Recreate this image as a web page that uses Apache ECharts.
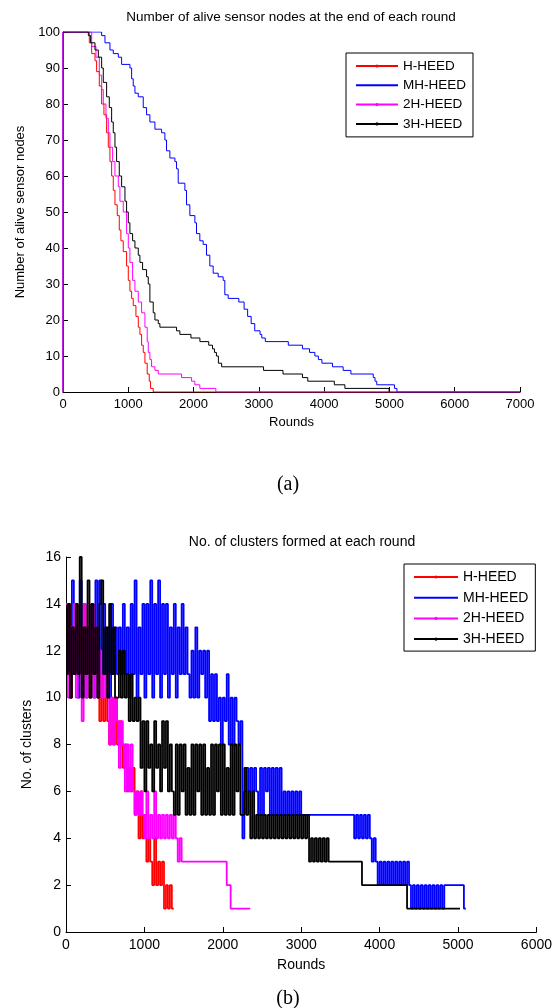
<!DOCTYPE html>
<html><head><meta charset="utf-8">
<script src="https://cdn.jsdelivr.net/npm/echarts@6/dist/echarts.min.js"></script>
<style>html,body{margin:0;padding:0;background:#fff}#c{width:555px;height:1008px}</style>
</head><body><div id="c"></div>
<script>
// ---------- shared ----------
const seriesNames = ['H-HEED', 'MH-HEED', '2H-HEED', '3H-HEED'];
const seriesColors = ['#ff0000', '#0000ff', '#ff00ff', '#000000'];

// ---------- chart (a): alive nodes, [round, alive nodes] ----------
const roundTicksA = [0, 1000, 2000, 3000, 4000, 5000, 6000, 7000];
const aliveTicksA = [0, 10, 20, 30, 40, 50, 60, 70, 80, 90, 100];

const aliveH = [[0,0],[0,100],[403,97],[439,94],[490,92],[515,89],[556,85],[592,80],[627,77],[668,72],[694,68],[719,64],[745,60],[770,56],[796,52],[831,49],[862,45],[887,42],[923,39],[974,35],[1000,31],[1025,28],[1051,26],[1076,24],[1117,21],[1153,18],[1178,16],[1204,13],[1229,11],[1255,8],[1290,5],[1321,3],[1341,1],[1382,0],[7000,0]];
const aliveMH = [[0,0],[0,100],[592,99],[643,97],[719,95],[770,94],[847,93],[898,91],[1025,90],[1051,87],[1076,85],[1102,83],[1153,82],[1229,79],[1280,77],[1331,75],[1408,73],[1510,72],[1561,70],[1586,67],[1637,65],[1714,64],[1739,62],[1765,58],[1867,56],[1892,52],[1943,49],[2020,47],[2045,44],[2096,42],[2147,41],[2198,38],[2249,35],[2300,33],[2377,32],[2453,31],[2479,27],[2530,26],[2693,25],[2774,23],[2828,21],[2882,19],[2937,17],[3018,16],[3045,15],[3099,14],[3451,13],[3668,12],[3776,11],[3858,10],[3912,9],[3966,8],[4128,7],[4291,6],[4410,5],[4752,4],[4779,3],[4806,2],[5077,1],[5115,0],[7000,0]];
const alive2H = [[0,0],[0,100],[439,96],[505,93],[556,88],[592,84],[617,80],[658,76],[694,72],[719,68],[760,64],[796,60],[847,57],[872,53],[923,50],[974,44],[1000,40],[1025,36],[1066,31],[1102,28],[1153,25],[1204,22],[1255,18],[1290,14],[1306,11],[1331,9],[1357,7],[1408,6],[1459,5],[1816,4],[1969,3],[2020,2],[2096,1],[2341,0],[7000,0]];
const alive3H = [[0,100],[388,99],[423,97],[490,95],[541,93],[592,90],[617,86],[668,82],[709,79],[745,75],[770,72],[796,68],[821,64],[862,60],[898,57],[949,53],[974,50],[1000,47],[1025,44],[1066,42],[1102,40],[1153,38],[1178,36],[1219,34],[1280,32],[1306,30],[1331,25],[1382,22],[1408,20],[1459,19],[1484,18],[1739,17],[1790,16],[1960,15],[2097,14],[2232,13],[2290,12],[2320,11],[2350,10],[2380,8],[2430,7],[3072,6],[3370,5],[3668,4],[3749,3],[4156,2],[4318,1],[4995,0]];

// ---------- chart (b): clusters per round, one value every CLUSTER_ROUND_STEP rounds ----------
const roundTicksB = [0, 1000, 2000, 3000, 4000, 5000, 6000];
const clusterTicksB = [0, 2, 4, 6, 8, 10, 12, 14, 16];
const CLUSTER_ROUND_STEP = 25;

const clustersH = [11,14,10,13,11,14,12,13,10,14,11,13,10,14,11,13,
  10,9,11,9,10,9,
  8,10,8,10,8,9,8,
  7,8,6,
  7,6,7,
  5,6,4,6,
  4,5,
  3,4,3,
  2,4,2,3,2,3,
  1,2,1,
  2,1,1];
const clusters2H = [14,10,13,11,14,10,13,11,9,14,10,13,11,14,10,13,
  10,12,10,11,10,11,
  8,10,8,10,
  9,7,9,8,
  6,8,6,8,6,
  5,6,5,6,5,
  4,6,4,5,4,6,4,5,4,5,
  4,5,4,5,4,5,4,
  3,4,
  3,3,3,3,3,3,3,3,3,3,3,3,3,3,3,3,3,3,3,3,3,3,3,
  2,2,
  1,1,1,1,1,1,1,1,1,1,1];
const clustersMH = [11,14,10,15,11,13,10,15,12,14,10,13,11,14,10,15,11,15,10,14,11,13,10,14,11,13,
  11,13,11,14,11,13,10,14,11,15,10,13,11,14,10,14,11,15,10,14,11,15,10,14,11,14,10,13,11,14,10,13,11,14,11,13,11,
  10,12,10,13,10,12,11,12,10,12,
  9,11,9,11,9,10,
  8,10,9,11,8,10,8,10,9,
  8,9,4,
  6,7,6,7,6,7,6,
  5,7,5,7,6,7,5,7,5,7,5,7,5,6,5,
  6,5,6,5,6,5,6,5,
  5,5,5,5,5,5,5,5,5,5,5,5,5,5,5,5,5,5,5,5,5,5,5,5,5,5,
  4,5,4,5,4,5,4,5,4,
  3,4,3,
  2,3,2,3,2,3,2,3,2,3,2,3,2,3,2,3,2,
  1,2,1,2,1,2,1,2,1,2,1,2,1,2,1,2,1,
  2,2,2,2,2,2,2,2,2,2,
  1,1];
const clusters3H = [11,14,10,13,11,14,11,16,10,13,11,15,10,14,11,13,10,14,15,11,13,10,14,11,13,10,
  10,12,10,12,10,11,
  9,11,9,10,9,10,
  7,9,6,9,7,8,6,9,7,8,6,9,7,9,6,8,6,
  5,8,5,8,6,8,5,7,5,8,5,8,6,8,5,8,5,7,5,8,5,8,6,8,5,8,5,7,5,8,5,8,6,8,5,
  5,7,5,6,4,6,4,5,
  4,5,4,5,4,5,4,5,4,5,4,5,4,5,4,5,4,5,4,5,4,5,4,5,4,5,
  3,4,3,4,3,4,3,4,3,4,3,
  3,3,3,3,3,3,3,3,3,3,3,3,3,3,3,3,
  2,2,2,2,2,2,2,2,2,2,2,2,2,2,2,2,2,2,2,2,2,2,2,
  1,1,1,1,1,1,1,1,1,1,1,1,1,1,1,1,1,1,1,1,1,1,1,1,1,1,1,1];

// ---------- build ----------
function toPairs(values) { return values.map((v, i) => [i * CLUSTER_ROUND_STEP, v]); }

const SANS = 'Liberation Sans, Arial, sans-serif';
const SERIF = 'Liberation Serif, Times New Roman, serif';

function axisCommon(fs, margin) {
  return {
    axisLine: { show: true, onZero: false, lineStyle: { color: '#000', width: 1 } },
    axisTick: { show: true, inside: true, length: 5, lineStyle: { color: '#000' } },
    axisLabel: { color: '#000', fontSize: fs, fontFamily: SANS, margin: margin, formatter: v => String(v) },
    splitLine: { show: false },
    nameTextStyle: { color: '#000', fontSize: fs, fontFamily: SANS }
  };
}

function lineSeries(name, data, xi, yi, width) {
  const c = seriesColors[seriesNames.indexOf(name)];
  return {
    type: 'line', name: name, data: data, xAxisIndex: xi, yAxisIndex: yi,
    step: 'end', symbol: 'circle', symbolSize: 3, showSymbol: false,
    lineStyle: { color: c, width: width }, itemStyle: { color: c },
    emphasis: { disabled: true }, silent: true, animation: false
  };
}

const legendData = seriesNames.map(n => n === 'MH-HEED' ? { name: n, itemStyle: { opacity: 0 } } : { name: n });

const option = {
  backgroundColor: '#fff',
  animation: false,
  grid: [
    { left: 63, top: 32, width: 457, height: 360, containLabel: false },
    { left: 66, top: 557, width: 474, height: 375, containLabel: false }
  ],
  xAxis: [
    Object.assign(axisCommon(13, 6), { type: 'value', gridIndex: 0, min: roundTicksA[0], max: roundTicksA[roundTicksA.length - 1], interval: roundTicksA[1] - roundTicksA[0], name: 'Rounds', nameLocation: 'middle', nameGap: 24 }),
    Object.assign(axisCommon(14, 6), { type: 'value', gridIndex: 1, min: roundTicksB[0], max: roundTicksB[roundTicksB.length - 1], interval: roundTicksB[1] - roundTicksB[0], name: 'Rounds', nameLocation: 'middle', nameGap: 26 })
  ],
  yAxis: [
    Object.assign(axisCommon(13, 3), { type: 'value', gridIndex: 0, min: aliveTicksA[0], max: aliveTicksA[aliveTicksA.length - 1], interval: aliveTicksA[1] - aliveTicksA[0], name: 'Number of alive sensor nodes', nameLocation: 'middle', nameGap: 35 }),
    Object.assign(axisCommon(14, 5), { type: 'value', gridIndex: 1, min: clusterTicksB[0], max: clusterTicksB[clusterTicksB.length - 1], interval: clusterTicksB[1] - clusterTicksB[0], name: 'No. of clusters', nameLocation: 'middle', nameGap: 28 })
  ],
  legend: [
    { data: legendData, orient: 'vertical', left: 346, top: 53, padding: [6, 7, 6, 9],
      itemWidth: 42, itemHeight: 4, itemGap: 5.3, selectedMode: false,
      borderColor: '#000', borderWidth: 1, backgroundColor: '#fff',
      textStyle: { color: '#000', fontSize: 13.5, fontFamily: SANS, lineHeight: 14 } },
    { data: legendData, orient: 'vertical', left: 404, top: 564, padding: [6, 7, 5, 9],
      itemWidth: 44, itemHeight: 4, itemGap: 6.7, selectedMode: false,
      borderColor: '#000', borderWidth: 1, backgroundColor: '#fff',
      textStyle: { color: '#000', fontSize: 14, fontFamily: SANS, lineHeight: 14 } }
  ],
  graphic: [
    { type: 'text', x: 291, y: 17, style: { text: 'Number of alive sensor nodes at the end of each round', fontSize: 13.5, fontFamily: SANS, fill: '#000', align: 'center', verticalAlign: 'middle' } },
    { type: 'text', x: 288, y: 485, style: { text: '(a)', fontSize: 20, fontFamily: SERIF, fill: '#000', align: 'center', verticalAlign: 'middle' } },
    { type: 'text', x: 302, y: 542, style: { text: 'No. of clusters formed at each round', fontSize: 14, fontFamily: SANS, fill: '#000', align: 'center', verticalAlign: 'middle' } },
    { type: 'text', x: 288, y: 999, style: { text: '(b)', fontSize: 20, fontFamily: SERIF, fill: '#000', align: 'center', verticalAlign: 'middle' } }
  ],
  series: [
    lineSeries('H-HEED', aliveH, 0, 0, 1),
    lineSeries('MH-HEED', aliveMH, 0, 0, 1),
    lineSeries('2H-HEED', alive2H, 0, 0, 1),
    lineSeries('3H-HEED', alive3H, 0, 0, 1),
    lineSeries('MH-HEED', toPairs(clustersMH), 1, 1, 1.8),
    lineSeries('H-HEED', toPairs(clustersH), 1, 1, 1.8),
    lineSeries('2H-HEED', toPairs(clusters2H), 1, 1, 1.8),
    lineSeries('3H-HEED', toPairs(clusters3H), 1, 1, 1.8)
  ]
};

const chart = echarts.init(document.getElementById('c'), null, { renderer: 'canvas', width: 555, height: 1008 });
chart.setOption(option);

// Keep the short horizontal parts of the dense step lines
// (the polyline skips sub-2px segments by default; a tiny positive threshold disables that).
const zr = chart.getZr();
zr.storage.getDisplayList(true).forEach(function (el) {
  if (el.shape && el.shape.points && el.segmentIgnoreThreshold !== undefined) {
    el.segmentIgnoreThreshold = 0.001;
    if (el.path) { el.path._ux = 0; el.path._uy = 0; }
    el.dirtyShape();
  }
});
zr.refreshImmediately();
</script>
</body></html>
